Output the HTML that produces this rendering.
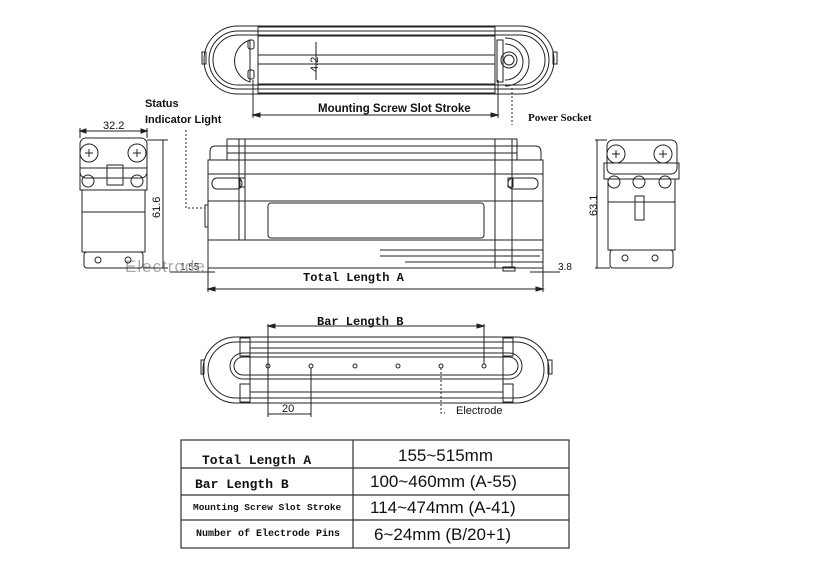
<!DOCTYPE html>
<html><head><meta charset="utf-8"><style>
html,body{margin:0;padding:0;background:#fff;}
svg{display:block;}
text{font-family:"Liberation Sans",sans-serif;fill:#111;}
.s{font-family:"Liberation Serif",serif;font-weight:bold;}
.m{font-family:"Liberation Mono",monospace;font-weight:bold;}
</style></head><body>
<svg width="826" height="574" viewBox="0 0 826 574" xmlns="http://www.w3.org/2000/svg" fill="none" stroke="#222" stroke-width="1">
<!-- TOP VIEW -->
<rect x="204" y="26" width="350" height="68" rx="34"/>
<rect x="209" y="31" width="340" height="58" rx="29"/>
<rect x="213" y="35" width="332" height="50" rx="25"/>
<rect x="258" y="27" width="237" height="66"/>
<line x1="258" y1="55" x2="495" y2="55"/><line x1="258" y1="64" x2="495" y2="64"/>
<line x1="258" y1="36" x2="495" y2="36"/><line x1="258" y1="84" x2="495" y2="84"/>
<path d="M250 40 A22 22 0 0 0 250 82 Z"/>
<rect x="248" y="40" width="6" height="9" rx="2"/><rect x="248" y="70" width="6" height="9" rx="2"/>
<rect x="497" y="40" width="6" height="42"/>
<path d="M505 38 A24 24 0 0 1 505 86"/><path d="M505 44 A18 18 0 0 1 505 80"/>
<circle cx="509" cy="60" r="8"/><circle cx="509" cy="60" r="5"/>
<rect x="553" y="52" width="4" height="12"/><rect x="202" y="52" width="4" height="12"/>
<line x1="316" y1="42" x2="316" y2="80"/>
<text x="318" y="72" font-size="11" transform="rotate(-90 318 72)" stroke="none">4.2</text>
<line x1="253" y1="80" x2="253" y2="118"/><line x1="498" y1="80" x2="498" y2="118"/>
<line x1="253" y1="115" x2="498" y2="115"/>
<path d="M253 115 l7 -2 v4z M498 115 l-7 -2 v4z" fill="#222"/>
<text x="318" y="112" font-size="11.5" stroke="none" font-weight="bold">Mounting Screw Slot Stroke</text>
<line x1="512" y1="88" x2="512" y2="125" stroke-dasharray="2 2"/>
<text x="528" y="121" font-size="11" class="s" stroke="none">Power Socket</text>
<text x="145" y="107" font-size="11" stroke="none" font-weight="bold">Status</text>
<text x="145" y="123" font-size="11" stroke="none" font-weight="bold">Indicator Light</text>
<path d="M186 130 V208 H205" stroke-dasharray="2 2"/>
<!-- FRONT VIEW -->
<rect x="227" y="139" width="290" height="21"/>
<line x1="227" y1="146" x2="517" y2="146"/><line x1="227" y1="153" x2="517" y2="153"/>
<path d="M227 146 H215 Q210 146 210 152 V160 M517 146 H535 Q541 146 541 152 V160"/>
<rect x="208" y="160" width="335" height="80"/>
<line x1="208" y1="174" x2="543" y2="174"/><line x1="208" y1="201" x2="543" y2="201"/>
<line x1="239" y1="139" x2="239" y2="240"/><line x1="245" y1="139" x2="245" y2="240"/>
<line x1="495" y1="139" x2="495" y2="268"/><line x1="512" y1="139" x2="512" y2="268"/>
<rect x="212" y="178" width="30" height="11" rx="5"/><rect x="240" y="178" width="5" height="9"/>
<rect x="508" y="178" width="30" height="11" rx="5"/><rect x="508" y="178" width="5" height="9"/>
<rect x="268" y="203" width="216" height="35" rx="3"/>
<rect x="208" y="240" width="335" height="28"/>
<line x1="380" y1="250" x2="543" y2="250"/><line x1="380" y1="256" x2="540" y2="256"/><line x1="405" y1="262" x2="543" y2="262"/>
<rect x="205" y="205" width="3" height="22"/>
<rect x="503" y="267" width="12" height="4"/>
<line x1="208" y1="268" x2="208" y2="292"/><line x1="543" y1="268" x2="543" y2="292"/>
<line x1="208" y1="289" x2="543" y2="289"/>
<path d="M208 289 l7 -2 v4z M543 289 l-7 -2 v4z" fill="#222"/>
<text x="303" y="281" font-size="12" class="m" stroke="none">Total Length A</text>
<text x="180" y="270" font-size="10" stroke="none">1.55</text>
<line x1="170" y1="272" x2="215" y2="272"/>
<line x1="530" y1="272" x2="560" y2="272"/>
<text x="558" y="270" font-size="10" stroke="none">3.8</text>
<text x="125" y="272" font-size="17" stroke="none" style="fill:#aaa;letter-spacing:1px">Electrode</text>
<!-- LEFT SIDE VIEW -->
<rect x="80" y="138" width="67" height="40" rx="6"/>
<circle cx="89" cy="153" r="9"/><circle cx="137" cy="153" r="9"/>
<path d="M85 153h8M89 149v8M133 153h8M137 149v8"/>
<rect x="107" y="165" width="16" height="20"/>
<rect x="80" y="168" width="67" height="22"/>
<circle cx="88" cy="181" r="6"/><circle cx="137" cy="181" r="6"/>
<rect x="82" y="190" width="63" height="22"/>
<rect x="82" y="212" width="63" height="40"/>
<rect x="84" y="252" width="59" height="16" rx="3"/>
<circle cx="98" cy="260" r="3"/><circle cx="128" cy="260" r="3"/>
<line x1="80" y1="128" x2="80" y2="138"/><line x1="147" y1="128" x2="147" y2="138"/>
<line x1="80" y1="131" x2="147" y2="131"/>
<path d="M80 131 l6 -2 v4z M147 131 l-6 -2 v4z" fill="#222"/>
<text x="103" y="129" font-size="11" stroke="none">32.2</text>
<line x1="147" y1="140" x2="168" y2="140"/><line x1="163" y1="140" x2="163" y2="268"/>
<line x1="143" y1="268" x2="168" y2="268"/>
<text x="160" y="218" font-size="11" transform="rotate(-90 160 218)" stroke="none">61.6</text>
<!-- RIGHT SIDE VIEW -->
<rect x="607" y="140" width="70" height="34" rx="6"/>
<circle cx="616" cy="154" r="9"/><circle cx="663" cy="154" r="9"/>
<path d="M612 154h8M616 150v8M659 154h8M663 150v8"/>
<rect x="604" y="163" width="75" height="16"/>
<circle cx="614" cy="182" r="6"/><circle cx="639" cy="182" r="6"/><circle cx="665" cy="182" r="6"/>
<rect x="608" y="179" width="67" height="23"/>
<rect x="608" y="202" width="67" height="48"/>
<rect x="635" y="196" width="9" height="24"/>
<rect x="610" y="250" width="63" height="18" rx="3"/>
<circle cx="625" cy="258" r="3"/><circle cx="655" cy="258" r="3"/>
<line x1="595" y1="140" x2="607" y2="140"/><line x1="595" y1="268" x2="610" y2="268"/>
<line x1="597" y1="140" x2="597" y2="268"/>
<text x="597" y="216" font-size="11" transform="rotate(-90 597 216)" stroke="none">63.1</text>
<!-- BOTTOM VIEW -->
<rect x="203" y="337" width="346" height="66" rx="33"/>
<rect x="208" y="342" width="336" height="56" rx="28"/>
<rect x="230" y="353" width="292" height="26" rx="13"/>
<rect x="234" y="357" width="284" height="18" rx="9"/>
<rect x="250" y="337" width="253" height="66"/>
<line x1="250" y1="342" x2="503" y2="342"/><line x1="250" y1="348" x2="503" y2="348"/>
<line x1="250" y1="392" x2="503" y2="392"/><line x1="250" y1="398" x2="503" y2="398"/>
<rect x="240" y="338" width="10" height="18"/><rect x="240" y="384" width="10" height="18"/>
<rect x="503" y="338" width="10" height="18"/><rect x="503" y="384" width="10" height="18"/>
<rect x="548" y="360" width="4" height="14"/><rect x="201" y="360" width="3" height="14"/>
<g fill="#fff">
<circle cx="268" cy="366" r="2"/><circle cx="311" cy="366" r="2"/><circle cx="355" cy="366" r="2"/>
<circle cx="398" cy="366" r="2"/><circle cx="441" cy="366" r="2"/><circle cx="484" cy="366" r="2"/></g>
<line x1="268" y1="324" x2="268" y2="417"/><line x1="484" y1="324" x2="484" y2="364"/>
<line x1="268" y1="326" x2="484" y2="326"/>
<path d="M268 326 l7 -2 v4z M484 326 l-7 -2 v4z" fill="#222"/>
<text x="317" y="325" font-size="12" class="m" stroke="none">Bar Length B</text>
<line x1="311" y1="368" x2="311" y2="417"/><line x1="268" y1="414" x2="311" y2="414"/>
<text x="282" y="412" font-size="11" stroke="none">20</text>
<path d="M441 368 V413 H445" stroke-dasharray="2 2"/>
<text x="456" y="414" font-size="11" stroke="none">Electrode</text>
<!-- TABLE -->
<g stroke="#333" stroke-width="1.2">
<rect x="181" y="440" width="388" height="108"/>
<line x1="353" y1="440" x2="353" y2="548"/>
<line x1="181" y1="468" x2="569" y2="468"/>
<line x1="181" y1="495" x2="569" y2="495"/>
<line x1="181" y1="520" x2="569" y2="520"/>
</g>
<g stroke="none">
<text x="202" y="464" font-size="13" class="m">Total Length A</text>
<text x="195" y="488" font-size="13" class="m">Bar Length B</text>
<text x="193" y="510" font-size="9.5" class="m">Mounting Screw Slot Stroke</text>
<text x="196" y="536" font-size="10" class="m">Number of Electrode Pins</text>
<text x="398" y="461" font-size="17">155~515mm</text>
<text x="370" y="487" font-size="17">100~460mm  (A-55)</text>
<text x="370" y="513" font-size="17">114~474mm  (A-41)</text>
<text x="374" y="540" font-size="17">6~24mm  (B/20+1)</text>
</g>
</svg>
</body></html>
